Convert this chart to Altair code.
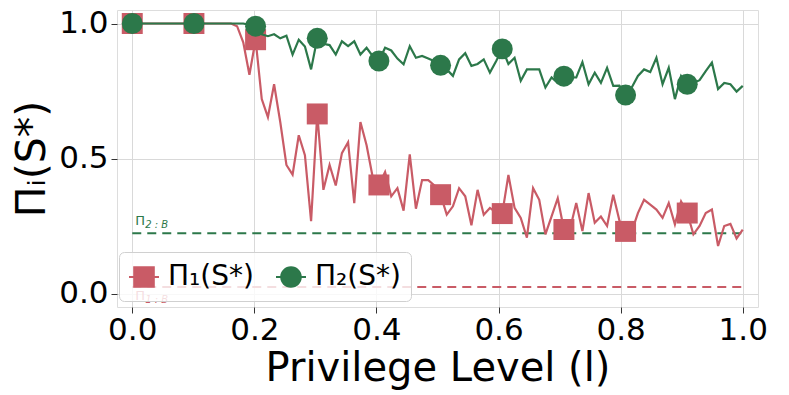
import altair as alt
import pandas as pd

# ---------------- data ----------------
n_points = 100
level = [i / (n_points - 1) for i in range(n_points)]

pi1 = [1.0] * 17 + [
    0.99, 0.93, 0.81, 0.94,
    0.72, 0.653, 0.775, 0.635, 0.476, 0.44, 0.586, 0.512, 0.268, 0.665,
    0.384, 0.476, 0.40, 0.52, 0.56, 0.335, 0.635, 0.549, 0.43, 0.402,
    0.45, 0.36, 0.39, 0.307, 0.515, 0.314, 0.42, 0.42, 0.40, 0.366,
    0.292, 0.323, 0.39, 0.36, 0.253, 0.384, 0.292, 0.317, 0.30, 0.296,
    0.439, 0.317, 0.28, 0.207, 0.39, 0.347, 0.219, 0.286, 0.353, 0.237,
    0.24, 0.335, 0.231, 0.372, 0.262, 0.285, 0.25, 0.366, 0.27, 0.23,
    0.23, 0.298, 0.347, 0.329, 0.311, 0.28, 0.335, 0.256, 0.341, 0.298,
    0.219, 0.25, 0.298, 0.311, 0.176, 0.25, 0.258, 0.204, 0.237,
]

pi2 = [1.0] * 19 + [
    0.995, 0.99,
    0.96, 0.953, 0.96, 0.945, 0.955, 0.885, 0.94, 0.915, 0.83, 0.945,
    0.925, 0.92, 0.885, 0.934, 0.916, 0.934, 0.885, 0.91, 0.879, 0.861,
    0.91, 0.90, 0.87, 0.849, 0.916, 0.873, 0.88, 0.87, 0.86, 0.845,
    0.83, 0.806, 0.867, 0.89, 0.843, 0.85, 0.867, 0.818, 0.86, 0.906,
    0.85, 0.873, 0.788, 0.83, 0.83, 0.83, 0.763, 0.80, 0.78, 0.805,
    0.80, 0.80, 0.857, 0.775, 0.818, 0.78, 0.836, 0.769, 0.77, 0.735,
    0.763, 0.806, 0.83, 0.82, 0.873, 0.775, 0.836, 0.72, 0.806, 0.775,
    0.78, 0.79, 0.824, 0.855, 0.757, 0.78, 0.775, 0.748, 0.769,
]

series_names = ["Π₁(S*)", "Π₂(S*)"]
series_colors = ["#C95B66", "#2C784A"]
marker_every = 10

baseline_values = [0.024, 0.223]
baseline_subs = ["1 : B", "2 : B"]

x_ticks = [0.0, 0.2, 0.4, 0.6, 0.8, 1.0]
y_ticks = [0.0, 0.5, 1.0]

# ---------------- tables ----------------
rows = []
for name, vals in zip(series_names, [pi1, pi2]):
    for i, (x, v) in enumerate(zip(level, vals)):
        rows.append({"series": name, "x": x, "y": v, "idx": i,
                     "marker": i % marker_every == 0})
df = pd.DataFrame(rows)

base_df = pd.DataFrame({
    "series": series_names,
    "y": baseline_values,
    "sub": baseline_subs,
})

FONT = "DejaVu Sans"
x_scale = alt.Scale(domain=[-0.025, 1.025], nice=False, zero=False)
y_scale = alt.Scale(domain=[-0.05, 1.05], nice=False, zero=False)
color_scale = alt.Scale(domain=series_names, range=series_colors)

SQ = "M-0.72,-0.72H0.72V0.72H-0.72Z M-1,-0.07H1V0.07H-1Z"
CI = ("M0.72,0A0.72,0.72,0,1,1,-0.72,0A0.72,0.72,0,1,1,0.72,0Z "
      "M-1,-0.07H1V0.07H-1Z")
shape_scale = alt.Scale(domain=series_names, range=[SQ, CI])

x_enc = alt.X("x:Q", scale=x_scale, axis=alt.Axis(
    values=x_ticks, format=".1f", title="Privilege Level (l)",
    labelFontSize=31, titleFontSize=40, labelFont=FONT, titleFont=FONT,
    titleFontWeight="normal", labelColor="black", titleColor="black",
    grid=True, gridColor="#d9d9d9", gridWidth=1, domain=False,
    tickColor="#333333", tickSize=6, labelPadding=2, titlePadding=3))
y_enc = alt.Y("y:Q", scale=y_scale, axis=alt.Axis(
    values=y_ticks, format=".1f", title="Πᵢ(S*)",
    labelFontSize=31, titleFontSize=41, labelFont=FONT, titleFont=FONT,
    titleFontWeight="normal", labelColor="black", titleColor="black",
    grid=True, gridColor="#d9d9d9", gridWidth=1, domain=False,
    tickColor="#333333", tickSize=6, labelPadding=3, titlePadding=5))

color_nolegend = alt.Color("series:N", scale=color_scale, legend=None)

legend_props = dict(
    title=None, orient="none", legendX=2, legendY=242,
    direction="horizontal", labelFontSize=28, labelFont=FONT,
    labelColor="black", symbolSize=900, symbolStrokeWidth=0,
    symbolOpacity=1, padding=10, cornerRadius=5,
    strokeColor="#d0d0d0", fillColor="rgba(255,255,255,0.8)",
    columnPadding=22, labelOffset=9)

# legend layer first so that its explicit legend wins the merge
legend_layer = alt.Chart(df).transform_filter("false").mark_point(
    filled=True, opacity=1).encode(
    x=x_enc, y=y_enc,
    color=alt.Color("series:N", scale=color_scale,
                    legend=alt.Legend(**legend_props)),
    shape=alt.Shape("series:N", scale=shape_scale,
                    legend=alt.Legend(**legend_props)),
)

rules = alt.Chart(base_df).mark_rule(strokeDash=[9, 6], strokeWidth=2).encode(
    x=alt.datum(0.0), x2=alt.datum(1.0), y=alt.Y("y:Q", scale=y_scale),
    color=color_nolegend)

layers = [legend_layer, rules]
label_dy = [(13, 16), (-8, -5)]
for name, (dy_main, dy_sub) in zip(series_names, label_dy):
    sel = alt.Chart(base_df).transform_filter(alt.datum.series == name)
    layers.append(sel.mark_text(
        text="Π", align="left", baseline="alphabetic", fontSize=13,
        font=FONT, dx=3, dy=dy_main
    ).encode(x=alt.datum(0.0), y=alt.Y("y:Q", scale=y_scale),
             color=color_nolegend))
    layers.append(sel.mark_text(
        align="left", baseline="alphabetic", fontSize=10, font=FONT,
        dx=13, dy=dy_sub, fontStyle="italic"
    ).encode(x=alt.datum(0.0), y=alt.Y("y:Q", scale=y_scale),
             text="sub:N", color=color_nolegend))

shapes = ["square", "circle"]
for name, shp in zip(series_names, shapes):
    line = alt.Chart(df).transform_filter(
        alt.datum.series == name
    ).mark_line(strokeWidth=2.2).encode(
        x=x_enc, y=y_enc, color=color_nolegend, order="idx:Q")
    pts = alt.Chart(df).transform_filter(
        (alt.datum.series == name) & alt.datum.marker
    ).mark_point(shape=shp, filled=True, size=440, opacity=1).encode(
        x=x_enc, y=y_enc, color=color_nolegend)
    layers += [line, pts]

chart = alt.layer(*layers).properties(
    width=641, height=297,
    autosize=alt.AutoSizeParams(type="none"),
    padding={"left": 109, "top": 2, "right": 23, "bottom": 86},
).configure_view(stroke="#333333", strokeWidth=1).configure(
    background="white")

chart.save("out.html", embed_options={"renderer": "svg", "actions": False})
